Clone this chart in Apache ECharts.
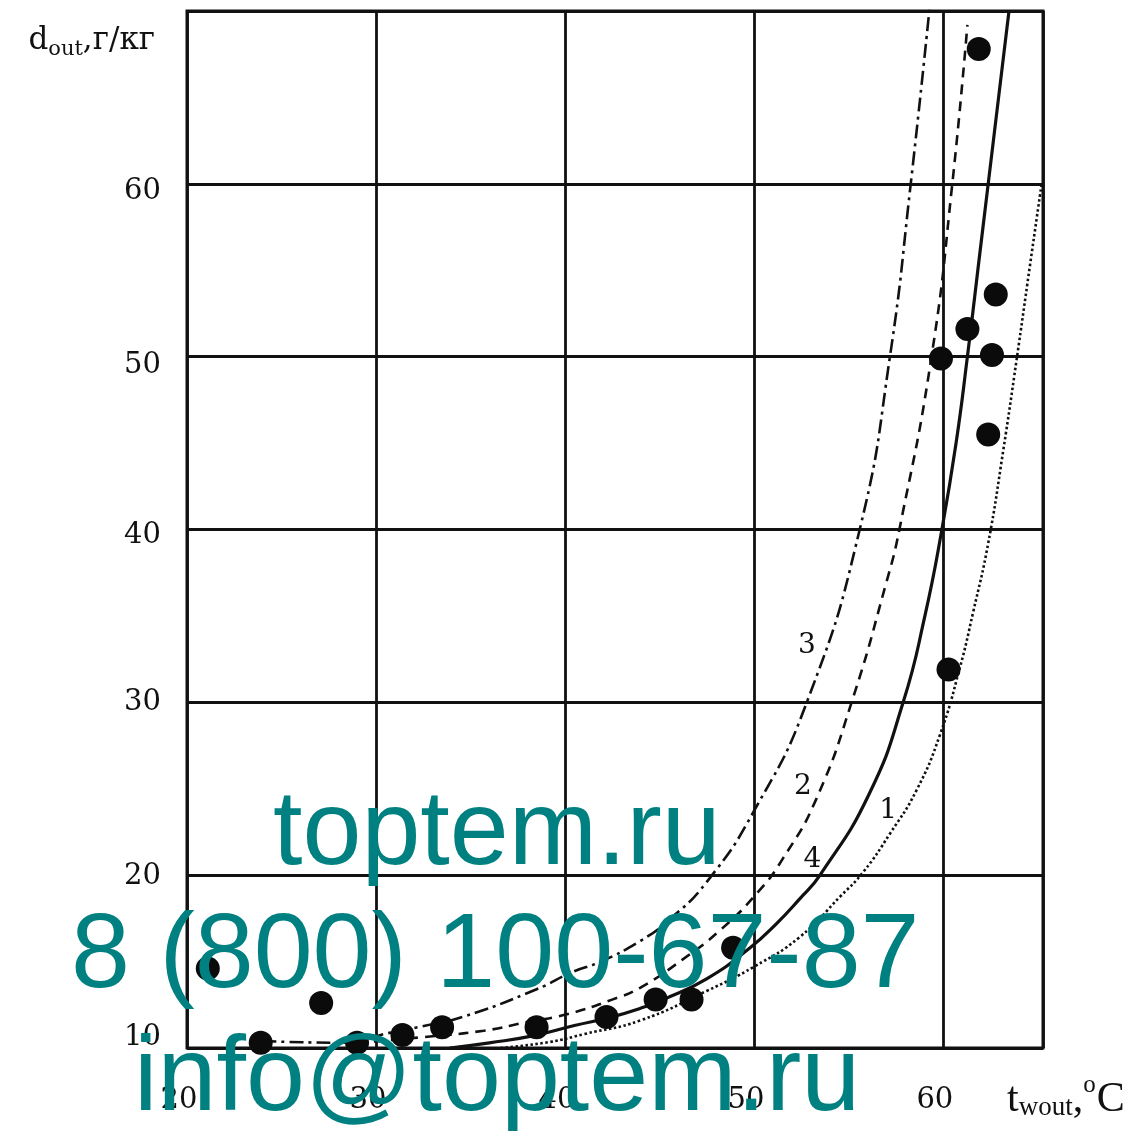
<!DOCTYPE html>
<html><head><meta charset="utf-8">
<script src="https://cdn.jsdelivr.net/npm/echarts@6/dist/echarts.min.js"></script>
<style>html,body{margin:0;padding:0;background:#fff}#c{width:1136px;height:1131px}</style>
</head><body><div id="c"></div>
<script>
// ---- data ----
const xTickLabels = ['20', '30', '40', '50', '60'];
const yTickLabels = ['10', '20', '30', '40', '50', '60'];

// experimental points
const pointsT = [21.1, 23.9, 27.1, 29.0, 31.4, 33.5, 38.5, 42.2, 44.8, 46.7, 48.9, 60.3, 59.9, 61.3, 62.6, 62.4, 62.8, 61.9];
const pointsD = [14.6, 10.3, 12.6, 10.3, 10.75, 11.2, 11.2, 11.8, 12.8, 12.8, 15.8, 31.9, 49.9, 51.6, 50.1, 45.5, 53.6, 67.8];

// curve 1 (dotted)
const curve1T = [36.6, 39.2, 41.0, 44.0, 47.5, 50.0, 52.4, 54.6, 55.8, 57.2, 58.6, 59.84, 60.9, 61.6, 62.4, 63.2, 63.9, 64.6, 65.24];
const curve1D = [10.0, 10.35, 10.8, 11.6, 13.3, 14.7, 16.4, 18.8, 20.2, 22.4, 24.9, 28.1, 32.0, 35.2, 39.2, 44.6, 49.8, 55.2, 60.1];

// curve 2 (dashed)
const curve2T = [29.0, 32.2, 35.7, 38.0, 40.1, 42.5, 44.0, 46.2, 48.2, 50.2, 51.5, 53.3, 55.2, 57.0, 57.7, 59.4, 60.5, 61.3];
const curve2D = [10.3, 10.6, 11.0, 11.5, 11.95, 12.8, 13.5, 15.1, 16.8, 19.0, 20.9, 24.4, 30.1, 36.9, 40.0, 50.0, 60.0, 69.2];

// curve 3 (dash-dot)
const curve3T = [24.0, 28.6, 30.4, 32.2, 34.6, 38.5, 40.4, 41.9, 44.0, 45.5, 47.5, 50.0, 52.8, 55.6, 57.2, 58.3, 59.3];
const curve3D = [10.4, 10.3, 10.8, 11.2, 11.8, 13.4, 14.4, 15.0, 16.2, 17.4, 19.6, 23.7, 30.0, 40.0, 50.0, 60.0, 70.2];

// curve 4 (solid)
const curve4T = [33.9, 36.0, 38.3, 40.5, 42.5, 44.0, 45.2, 47.5, 49.8, 51.2, 52.4, 53.5, 56.1, 57.9, 59.05, 59.95, 60.7, 61.3, 61.85, 62.4, 62.95, 63.5];
const curve4D = [10.0, 10.3, 10.7, 11.3, 11.8, 12.3, 12.8, 14.0, 15.8, 17.2, 18.6, 20.0, 24.7, 30.0, 35.0, 40.0, 45.0, 50.0, 55.0, 60.0, 65.0, 70.0];

// curve number labels
const curveNames = ['1', '2', '3', '4'];
const curveLabelT = [57.1, 52.6, 52.8, 53.1];
const curveLabelD = [23.7, 25.1, 33.3, 20.9];

// watermark lines
const watermark = ['toptem.ru', '8 (800) 100-67-87', 'info@toptem.ru'];

// ---- chart ----
const zip = (a, b) => a.map((v, i) => [v, b[i]]);
const INK = '#111';
const SERIF = '"DejaVu Serif", serif';
const TIMES = '"Liberation Serif", serif';
const SANS = '"Liberation Sans", Arial, sans-serif';

const lineSeries = (t, d, type, width) => ({
  type: 'line', data: zip(t, d), showSymbol: false, symbol: 'none', smooth: 0.5,
  lineStyle: { color: INK, width: width, type: type, cap: 'butt' }, z: 5, silent: true
});

const chart = echarts.init(document.getElementById('c'), null, { renderer: 'canvas' });
chart.setOption({
  backgroundColor: '#fff',
  animation: false,
  grid: { left: 187, right: 93, top: 11, bottom: 83, show: true, borderColor: INK, borderWidth: 3, backgroundColor: 'transparent', outerBoundsMode: 'none' },
  xAxis: {
    type: 'value', min: 20, max: 65.3, interval: 10,
    axisLine: { show: false }, axisTick: { show: false },
    splitLine: { show: true, lineStyle: { color: INK, width: 2.8 } },
    axisLabel: {
      showMaxLabel: false, margin: 38, color: INK, fontFamily: SERIF, fontSize: 29, padding: [0, 16, 0, 0],
      formatter: v => xTickLabels.includes(String(v)) ? String(v) : ''
    },
    name: '{m|t}{s|wout}{m|,}{o|o}{m|C}', nameLocation: 'end', nameGap: -36,
    nameTextStyle: {
      align: 'left', verticalAlign: 'middle', padding: [98, 0, 0, 0],
      rich: {
        m: { fontFamily: TIMES, fontSize: 42, color: INK, lineHeight: 48, verticalAlign: 'bottom' },
        s: { fontFamily: TIMES, fontSize: 27, color: INK, lineHeight: 27, verticalAlign: 'bottom' },
        o: { fontFamily: TIMES, fontSize: 25, color: INK, lineHeight: 25, verticalAlign: 'top', padding: [0, 1, 0, 0] }
      }
    }
  },
  yAxis: {
    type: 'value', min: 10, max: 70, interval: 10,
    axisLine: { show: false }, axisTick: { show: false },
    splitLine: { show: true, lineStyle: { color: INK, width: 2.8 } },
    axisLabel: {
      showMaxLabel: false, margin: 26, color: INK, fontFamily: SERIF, fontSize: 29,
      formatter: v => { const s = String(v); return yTickLabels.includes(s) ? '{y' + s + '|' + s + '}' : ''; },
      rich: {
        y10: { fontFamily: SERIF, fontSize: 29, color: INK, padding: [0, 0, 22, 0] },
        y20: { fontFamily: SERIF, fontSize: 29, color: INK, padding: [2, 0, 0, 0] },
        y30: { fontFamily: SERIF, fontSize: 29, color: INK },
        y40: { fontFamily: SERIF, fontSize: 29, color: INK, padding: [12, 0, 0, 0] },
        y50: { fontFamily: SERIF, fontSize: 29, color: INK, padding: [18, 0, 0, 0] },
        y60: { fontFamily: SERIF, fontSize: 29, color: INK, padding: [16, 0, 0, 0] }
      }
    },
    name: '{m|d}{s|out}{m|,г/кг}', nameLocation: 'end', nameGap: -27,
    nameTextStyle: {
      align: 'right', verticalAlign: 'middle', padding: [0, 32, 0, 0],
      rich: {
        m: { fontFamily: SERIF, fontSize: 31, color: INK, lineHeight: 36, verticalAlign: 'bottom' },
        s: { fontFamily: SERIF, fontSize: 21, color: INK, lineHeight: 21, verticalAlign: 'bottom', padding: [0, 0, -4, 0] }
      }
    }
  },
  series: [
    lineSeries(curve1T, curve1D, [2.5, 2.5], 2.6),
    lineSeries(curve2T, curve2D, [10, 7], 2.6),
    lineSeries(curve3T, curve3D, [14, 5, 3, 5], 2.6),
    lineSeries(curve4T, curve4D, 'solid', 3.2),
    {
      type: 'scatter', data: zip(pointsT, pointsD), symbol: 'circle', symbolSize: 24,
      itemStyle: { color: '#0b0b0b', opacity: 1 }, z: 6, silent: true
    },
    {
      type: 'scatter', symbol: 'circle', symbolSize: 2, z: 7, silent: true,
      itemStyle: { color: 'rgba(255,255,255,0)', opacity: 1 },
      data: curveNames.map((n, i) => ({ name: n, value: [curveLabelT[i], curveLabelD[i]] })),
      label: { show: true, position: 'inside', formatter: p => p.name, fontFamily: SERIF, fontSize: 28, color: INK, opacity: 1 }
    }
  ],
  graphic: [
    { type: 'text', x: 273, y: 835, z: 100, silent: true, style: { text: watermark[0], fontFamily: SANS, fontSize: 106, fill: '#008080', verticalAlign: 'middle' } },
    { type: 'text', x: 71, y: 958, z: 100, silent: true, style: { text: watermark[1], fontFamily: SANS, fontSize: 106, fill: '#008080', verticalAlign: 'middle' } },
    { type: 'text', x: 134, y: 1081, z: 100, silent: true, style: { text: watermark[2], fontFamily: SANS, fontSize: 106, fill: '#008080', verticalAlign: 'middle' } }
  ]
});
</script>
</body></html>
